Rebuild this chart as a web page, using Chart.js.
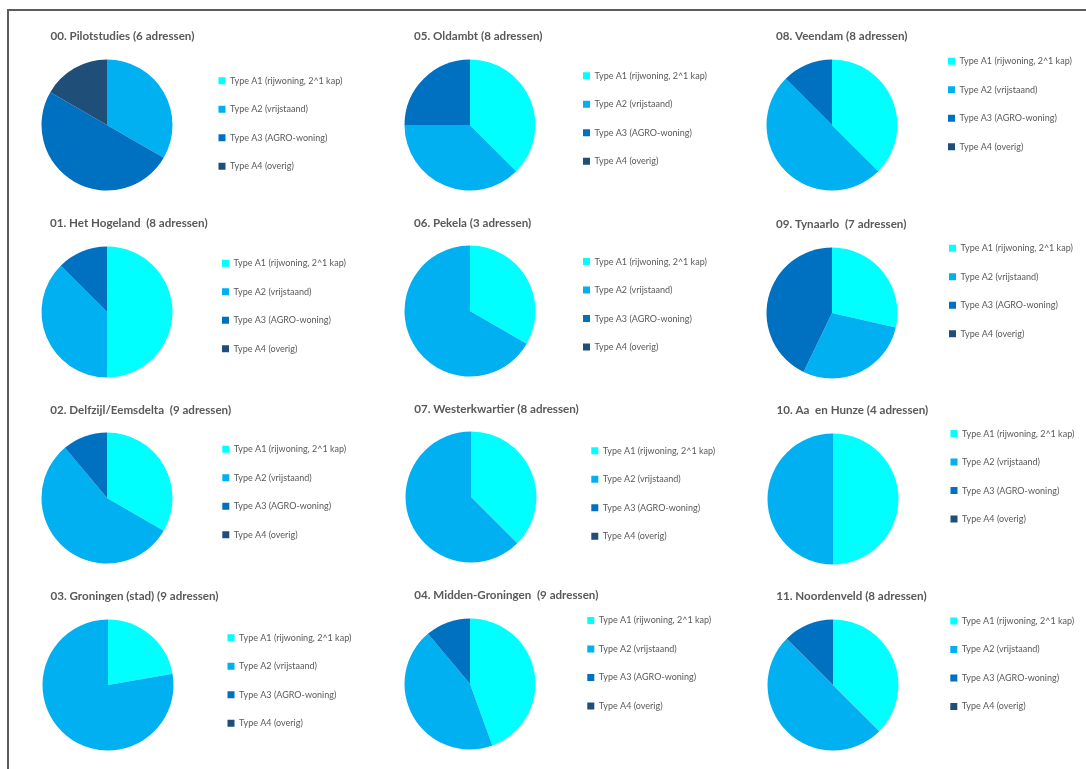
<!DOCTYPE html>
<html>
<head>
<meta charset="utf-8">
<script src="https://cdn.jsdelivr.net/npm/chart.js@4.4.1/dist/chart.umd.min.js"></script>
<style>
  html, body { margin: 0; padding: 0; background: #fff; }
  #sheet { position: relative; width: 1086px; height: 769px; overflow: hidden; background: #fff; }
  #frame { position: absolute; left: 7px; top: 9px; width: 1100px; height: 800px;
           border-left: 2px solid #5c5c5c; border-top: 2px solid #5c5c5c; }
  canvas { position: absolute; }
</style>
</head>
<body>
<div id="sheet"><div id="frame"></div></div>
<script>
// woningtypes (legend) and the count per gemeente
const types = ['Type A1 (rijwoning, 2^1 kap)', 'Type A2 (vrijstaand)', 'Type A3 (AGRO-woning)', 'Type A4 (overig)'];
const gemeenten = [
  '00. Pilotstudies (6 adressen)',
  '01. Het Hogeland  (8 adressen)',
  '02. Delfzijl/Eemsdelta  (9 adressen)',
  '03. Groningen (stad) (9 adressen)',
  '04. Midden-Groningen  (9 adressen)',
  '05. Oldambt (8 adressen)',
  '06. Pekela (3 adressen)',
  '07. Westerkwartier (8 adressen)',
  '08. Veendam (8 adressen)',
  '09. Tynaarlo  (7 adressen)',
  '10. Aa  en Hunze (4 adressen)',
  '11. Noordenveld (8 adressen)'
];
const typeA1 = [0, 4, 3, 2, 4, 3, 1, 3, 3, 2, 2, 3];
const typeA2 = [2, 3, 5, 7, 4, 3, 2, 5, 4, 2, 2, 4];
const typeA3 = [3, 1, 1, 0, 1, 2, 0, 0, 1, 3, 0, 1];
const typeA4 = [1, 0, 0, 0, 0, 0, 0, 0, 0, 0, 0, 0];

const colors = ['#00FFFF', '#00B0F0', '#0070C0', '#1F4E79'];

// where each block sits on the sheet: pie centre, title start, first legend row
const spots = [
  {cx: 106.5, cy: 125,   tx: 50,  ty: 36,  lx: 218, ly: 80.7},
  {cx: 107,   cy: 312,   tx: 50,  ty: 223, lx: 222, ly: 263.3},
  {cx: 106.7, cy: 498,   tx: 50,  ty: 410, lx: 222, ly: 449.3},
  {cx: 107.5, cy: 684.5, tx: 50,  ty: 596, lx: 227, ly: 637.3},
  {cx: 469.7, cy: 684.3, tx: 414, ty: 596, lx: 587, ly: 620.7},
  {cx: 470,   cy: 124.5, tx: 414, ty: 36,  lx: 583, ly: 75.3},
  {cx: 470,   cy: 310.7, tx: 414, ty: 223, lx: 583, ly: 261.3},
  {cx: 470.7, cy: 497,   tx: 414, ty: 409, lx: 591, ly: 450.7},
  {cx: 832,   cy: 124.5, tx: 776, ty: 36,  lx: 948, ly: 60.7},
  {cx: 832,   cy: 312.5, tx: 776, ty: 224, lx: 949, ly: 247.7},
  {cx: 832.5, cy: 498.7, tx: 776, ty: 410, lx: 950, ly: 433.3},
  {cx: 832.7, cy: 684.7, tx: 776, ty: 596, lx: 950, ly: 620.7}
];

const R = 65.5;
const W = 360, H = 186;
const LEG_W = 60, LEG_PAD = 19.5, LEG_FONT = 9;
const TITLE_FONT = 11.6, TITLE_H = TITLE_FONT * 1.2;
const FONT = "Lato, 'Liberation Sans', sans-serif";

// move title and legend to their own spots once the pie area is laid out
const placeBoxes = {
  id: 'placeBoxes',
  afterLayout(chart, args, o) {
    const tb = chart.titleBlock;
    tb.left = o.tx; tb.right = o.tx + 320;
    tb.top = o.ty - tb.height / 2; tb.bottom = tb.top + tb.height;
    const lg = chart.legend;
    lg.left = o.lx - LEG_PAD; lg.right = lg.left + 200;
    lg.top = o.ly - LEG_PAD - LEG_FONT / 2; lg.bottom = lg.top + 170;
  }
};

const sheet = document.getElementById('sheet');

gemeenten.forEach((name, i) => {
  const s = spots[i];
  const X = s.cx - 110, Y = s.cy - 115;
  const cv = document.createElement('canvas');
  cv.width = W; cv.height = H;
  cv.style.left = X + 'px'; cv.style.top = Y + 'px';
  sheet.appendChild(cv);

  new Chart(cv, {
    type: 'pie',
    data: {
      labels: types,
      datasets: [{
        data: [typeA1[i], typeA2[i], typeA3[i], typeA4[i]],
        backgroundColor: colors,
        borderWidth: 0,
        hoverBorderWidth: 0,
        hoverOffset: 0
      }]
    },
    options: {
      responsive: false,
      animation: false,
      events: [],
      layout: {
        padding: {
          left: 110 - R,
          right: W - LEG_W - (110 + R),
          top: (115 - R) - TITLE_H,
          bottom: H - (115 + R)
        }
      },
      plugins: {
        title: {
          display: true,
          text: name,
          align: 'start',
          color: '#595959',
          padding: 0,
          font: {family: FONT, size: TITLE_FONT, weight: 'bold', lineHeight: 1.2}
        },
        legend: {
          position: 'right',
          align: 'start',
          maxWidth: LEG_W,
          labels: {
            boxWidth: 7,
            boxHeight: 7,
            padding: LEG_PAD,
            color: '#595959',
            font: {family: FONT, size: LEG_FONT}
          }
        },
        tooltip: {enabled: false},
        placeBoxes: {tx: s.tx - X, ty: s.ty - Y, lx: s.lx - X, ly: s.ly - Y}
      }
    },
    plugins: [placeBoxes]
  });
});
</script>
</body>
</html>
